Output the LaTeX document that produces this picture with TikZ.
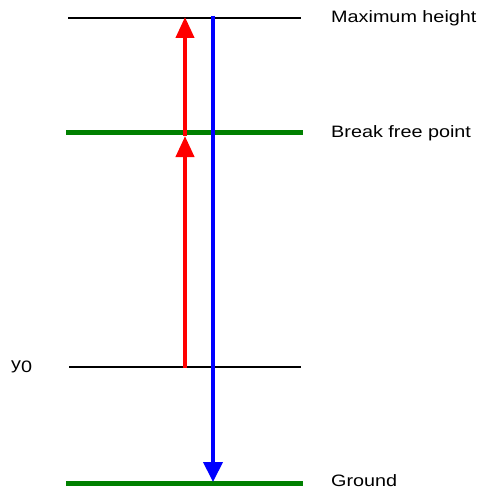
\documentclass[tikz,border=0pt]{standalone}
\usepackage{fontspec}
\setmainfont{Liberation Sans}
\usetikzlibrary{arrows.meta}
\newcommand{\widetxt}[1]{\scalebox{1.2}[1]{#1}}
\begin{document}
\begin{tikzpicture}[x=1pt,y=-1pt,
  thinline/.style={line width=1.3pt,black},
  greenline/.style={line width=5pt,green!50!black},
  lbl/.style={anchor=west,inner sep=0pt,font=\fontsize{16.5}{19}\selectfont},
  redarrow/.style={line width=4pt,red,-{Triangle[length=21pt,width=18pt]}},
  bluearrow/.style={line width=4pt,blue,-{Triangle[length=20pt,width=19pt]}}]
\useasboundingbox (0,0) rectangle (478,489);
% levels
\coordinate (maxL) at (68,18);   \coordinate (maxR) at (301,18);
\coordinate (brkL) at (66,133);  \coordinate (brkR) at (303,133);
\coordinate (y0L) at (69,367);   \coordinate (y0R) at (301,367);
\coordinate (gndL) at (66,483);  \coordinate (gndR) at (303,483);
\draw[thinline] (maxL) -- (maxR);
\draw[thinline] (y0L) -- (y0R);
\draw[greenline] (brkL) -- (brkR);
\draw[greenline] (gndL) -- (gndR);
% red arrows
\coordinate (rStart) at (185,368);
\coordinate (rMid) at (185,136);
\coordinate (rTop) at (185,17);
\draw[redarrow] (rStart) -- (rMid);
\draw[redarrow] (rMid) -- (rTop);
% blue arrow
\coordinate (bTop) at (213,16);
\coordinate (bBot) at (213,482);
\draw[bluearrow] (bTop) -- (bBot);
% labels
\node[lbl] (tmax) at (331,18) {\widetxt{Maximum height}};
\node[lbl] (tbrk) at (331,133) {\widetxt{Break free point}};
\node[lbl] (tgnd) at (331,481) {\widetxt{Ground}};
\node[lbl] (ty0) at (11,367) {\widetxt{y\raisebox{-2.5pt}{0}}};
\end{tikzpicture}
\end{document}
